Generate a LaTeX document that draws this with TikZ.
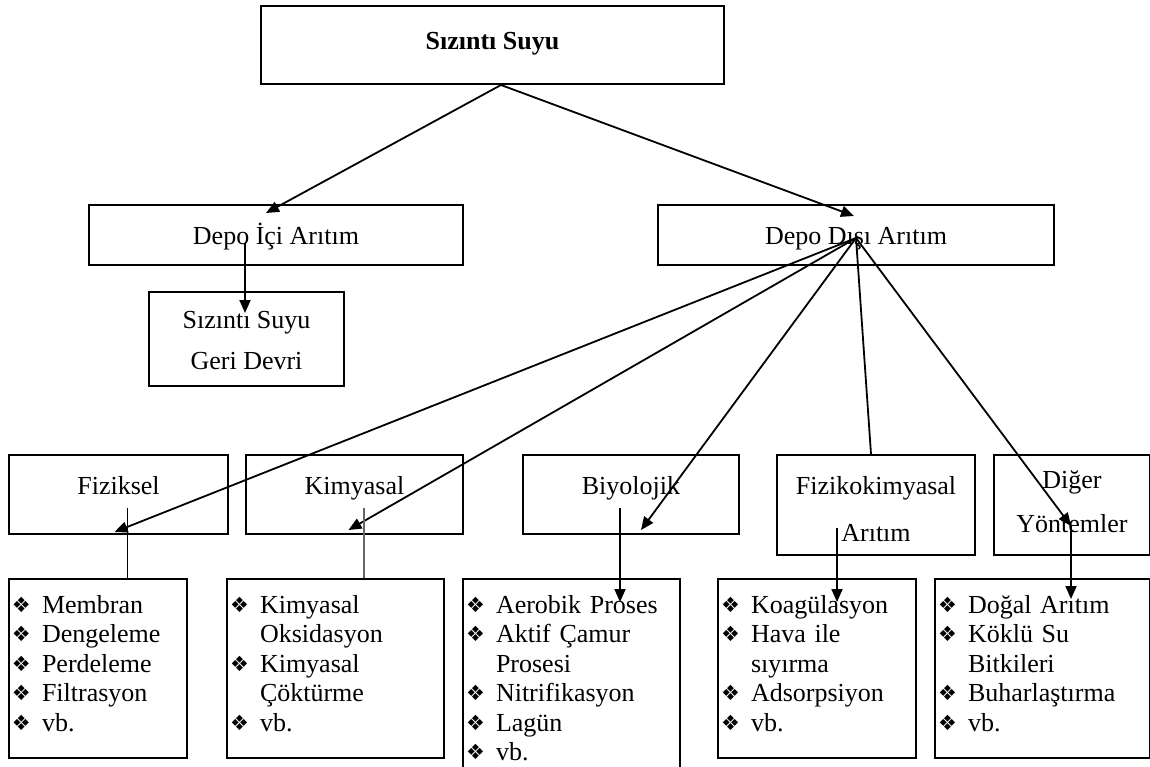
\documentclass[tikz,border=0pt]{standalone}
\usepackage{fontspec}
\setmainfont{Liberation Serif}
\newfontfamily\dingfont{DejaVu Sans}
\usetikzlibrary{arrows.meta,calc}
\newcommand{\bul}{\makebox[30pt][l]{\raisebox{1pt}{\dingfont\fontsize{21}{21}\selectfont ❖}}}
\newcommand{\hng}{\hspace*{30pt}}
\newcommand{\ustr}[1]{\rule{0pt}{#1}}
\newcommand{\dstr}[1]{\rule[-#1]{0pt}{#1}}

\begin{document}
\begin{tikzpicture}[x=1pt,y=-1pt,font=\fontsize{26}{29.5}\selectfont,
  box/.style={draw,line width=2pt,inner sep=0pt,align=center,anchor=north west},
  lst/.style={draw,line width=2pt,inner xsep=3pt,inner ysep=0pt,align=left,anchor=north west},
  arr/.style={-{Triangle[length=13pt,width=11pt]},line width=1.8pt},
  ln/.style={line width=1.8pt}]
\useasboundingbox (0,0) rectangle (1150,767);
\clip (0,0) rectangle (1150,767);
% top
\node[box,minimum width=463pt] (top) at (260,5) {\ustr{44pt}\textbf{Sızıntı Suyu}\dstr{34pt}};
% second row
\node[box,minimum width=374pt] (ic) at (88,204) {\ustr{39pt}Depo İçi Arıtım\dstr{21pt}};
\node[box,minimum width=396pt] (dd) at (657,204) {\ustr{39pt}Depo Dışı Arıtım\dstr{21pt}};
\node[box,minimum width=195pt] (gd) at (148,291) {\ustr{36pt}Sızıntı Suyu\\[11.5pt]Geri Devri\dstr{17pt}};
% methods
\node[box,minimum width=219pt] (fiz) at (8,454) {\ustr{39pt}Fiziksel\dstr{40pt}};
\node[box,minimum width=217pt] (kim) at (245,454) {\ustr{39pt}Kimyasal\dstr{40pt}};
\node[box,minimum width=216pt] (biy) at (522,454) {\ustr{39pt}Biyolojik\dstr{40pt}};
\node[box,minimum width=198pt] (fk) at (776,454) {\ustr{39pt}Fizikokimyasal\\[17.5pt]Arıtım\dstr{14pt}};
\node[box,minimum width=156pt] (dig) at (993,454) {\ustr{33pt}Diğer\\[14.5pt]Yöntemler\dstr{23pt}};
% lists
\node[lst,text width=172pt] (l1) at (8,578) {\ustr{34pt}\bul Membran\\\bul Dengeleme\\\bul Perdeleme\\\bul Filtrasyon\\\bul vb.\dstr{27pt}};
\node[lst,text width=211pt] (l2) at (226,578) {\ustr{34pt}\bul Kimyasal\\\hng Oksidasyon\\\bul Kimyasal\\\hng Çöktürme\\\bul vb.\dstr{27pt}};
\node[lst,text width=211pt] (l3) at (462,578) {\ustr{34pt}\bul Aerobik Proses\\\bul Aktif Çamur\\\hng Prosesi\\\bul Nitrifikasyon\\\bul Lagün\\\bul vb.\dstr{27pt}};
\node[lst,text width=192pt] (l4) at (717,578) {\ustr{34pt}\bul Koagülasyon\\\bul Hava ile\\\hng sıyırma\\\bul Adsorpsiyon\\\bul vb.\dstr{27pt}};
\node[lst,text width=209pt] (l5) at (934,578) {\ustr{34pt}\bul Doğal Arıtım\\\bul Köklü Su\\\hng Bitkileri\\\bul Buharlaştırma\\\bul vb.\dstr{27pt}};
% connectors
\draw[arr] ($(top.south)+(8.5,0)$) -- ($(ic.center)+(-10,-22)$);
\draw[arr] ($(top.south)+(8.5,0)$) -- ($(dd.center)+(-2,-19)$);
\draw[arr] ($(ic.center)+(-31,8)$) -- ($(gd.north)+(-1.5,22)$);
\coordinate (hub) at ($(dd.center)+(0,3)$);
\coordinate (da) at ($(dig.center)+(-1,21)$);
\draw[arr] (hub) -- ($(fiz.south)+(-4,-3)$);
\draw[arr] (hub) -- ($(kim.south)+(-6,-5)$);
\draw[arr] (hub) -- ($(biy.south)+(10,-5)$);
\draw[ln] (hub) -- ($(fk.north)+(-5,0)$);
\draw[arr] (hub) -- (da);
\coordinate (fa) at ($(fiz.center)+(9,13)$);
\draw[ln] (fa) -- (fa |- l1.north);
\coordinate (ka) at ($(kim.center)+(9.5,13.5)$);
\draw[ln,black!60] (ka) -- (ka |- l2.north);
\coordinate (ba) at ($(biy.center)+(-11,13.5)$);
\draw[arr] (ba) -- ($(ba |- l3.north)+(0,24)$);
\coordinate (fka) at ($(fk.center)+(-39,23)$);
\draw[arr] (fka) -- ($(fka |- l4.north)+(0,24)$);
\draw[arr] (da) -- ($(da |- l5.north)+(0,21)$);
\end{tikzpicture}
\end{document}
